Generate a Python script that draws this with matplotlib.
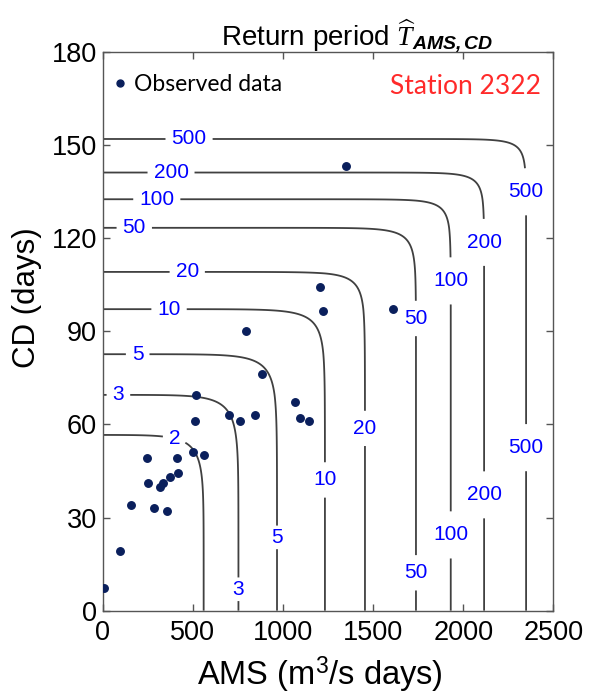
import numpy as np
import matplotlib as mpl
mpl.use("Agg")
import matplotlib.pyplot as plt
from matplotlib.lines import Line2D

plt.rcParams.update({
    "font.family": "Liberation Sans",
    "mathtext.fontset": "custom",
    "mathtext.rm": "Liberation Sans",
    "mathtext.it": "Liberation Serif:italic",
    "mathtext.bf": "Liberation Sans:bold:italic",
})

T_levels = [2, 3, 5, 10, 20, 50, 100, 200, 500]
ams_q = [560, 753, 967, 1233, 1455, 1738, 1931, 2116, 2349]
cd_q = [56.6, 69.5, 82.6, 97.1, 109.1, 123.3, 132.5, 141.1, 151.9]
theta = 4.0  # Gumbel copula dependence

# observed data (AMS, CD)
obs_ams = [9, 96, 155, 246, 251, 285, 318, 333, 357, 373, 411, 418, 501, 564,
           512, 518, 702, 762, 845, 797, 885, 1065, 1095, 1143, 1207, 1220,
           1350, 1612]
obs_cd = [7.2, 19.2, 34.0, 49.3, 41.1, 33.2, 39.9, 41.2, 32.1, 42.9, 49.3, 44.2,
          51.1, 50.1, 61.0, 69.4, 63.1, 61.0, 63.1, 90.1, 76.2, 67.2, 62.1, 61.0,
          104.1, 96.4, 143.2, 97.2]

# where the contour labels sit (data coords)
label_pos = [(479, 151.9), (379, 141.1), (300, 132.5), (175, 123.3),
             (469, 109.1), (368, 97.1), (194, 82.6), (87, 69.5), (396, 55),
             (2345, 134.9), (2349, 52.5), (2116, 118.6), (2116, 37.3),
             (1931, 106.2), (1931, 24.4), (1738, 94.1), (1738, 12.2),
             (1455, 58.7), (1233, 42.1), (967, 23.6), (753, 6.9)]


def interp_ext(x, xp, fp):
    """linear interpolation with linear extrapolation at both ends"""
    xp = np.asarray(xp, float); fp = np.asarray(fp, float)
    y = np.interp(x, xp, fp)
    lo = x < xp[0]; hi = x > xp[-1]
    y[lo] = fp[0] + (x[lo] - xp[0]) * (fp[1] - fp[0]) / (xp[1] - xp[0])
    y[hi] = fp[-1] + (x[hi] - xp[-1]) * (fp[-1] - fp[-2]) / (xp[-1] - xp[-2])
    return y


# "AND" joint return period from a Gumbel copula on the two marginals
z_T = -np.log(-np.log(1 - 1 / np.array(T_levels, float)))
xg = np.linspace(0, 2500, 900)
yg = np.linspace(0, 180, 700)
X, Y = np.meshgrid(xg, yg)
a = np.exp(-interp_ext(X.ravel(), ams_q, z_T)).reshape(X.shape)  # -ln u
b = np.exp(-interp_ext(Y.ravel(), cd_q, z_T)).reshape(Y.shape)  # -ln v
u, v = np.exp(-a), np.exp(-b)
C = np.exp(-(a ** theta + b ** theta) ** (1 / theta))
T_and = 1 / np.clip(1 - u - v + C, 1e-12, None)

fig = plt.figure(figsize=(5.89, 7.0), dpi=100)
ax = fig.add_axes([0.1744, 0.1276, 0.765, 0.7985])

cs = ax.contour(X, Y, T_and, levels=T_levels, colors="#404040", linewidths=1.3)
ax.clabel(cs, fmt="%d", manual=label_pos, inline=True, inline_spacing=6,
          fontsize=15, colors="#0000ff")
for t in cs.labelTexts:
    t.set_rotation(0)

ax.plot(obs_ams, obs_cd, "o", color="#0a1f5c", ms=5.4, mec="#0a1f5c", zorder=3)

ax.set_xlim(0, 2500)
ax.set_ylim(0, 180)
ax.set_xticks(np.arange(0, 2501, 500))
ax.set_yticks(np.arange(0, 181, 30))
ax.tick_params(direction="in", top=True, right=True, length=5, width=1,
               color="#555555", labelsize=19.5)
ax.tick_params(axis="x", pad=7)
ax.tick_params(axis="y", pad=4)
for s in ax.spines.values():
    s.set_color("#555555")
    s.set_linewidth(1.0)

ax.set_xlabel("AMS (m$^3$/s days)", fontsize=23.5, va="baseline")
ax.set_ylabel("CD (days)", fontsize=22.5)
ax.xaxis.set_label_coords(0.481, -0.133)
ax.yaxis.set_label_coords(-0.135, 0.56)
ax.set_title(r"Return period $\widehat{T}_{\mathbf{AMS,CD}}$", fontsize=20,
             x=0.564, pad=5)

h = Line2D([], [], ls="none", marker="o", color="#0a1f5c", ms=5)
ax.legend([h], ["Observed data"], loc="upper left", frameon=False,
          prop={"family": "Lato", "size": 16.5}, handletextpad=0.15,
          handlelength=0.9, borderaxespad=0.0, bbox_to_anchor=(-0.005, 0.977))
ax.text(0.972, 0.938, "Station 2322", transform=ax.transAxes, ha="right",
        va="center", color="#ff2a2a", family="Lato", fontsize=19)

fig.savefig("out.png", dpi=100)
